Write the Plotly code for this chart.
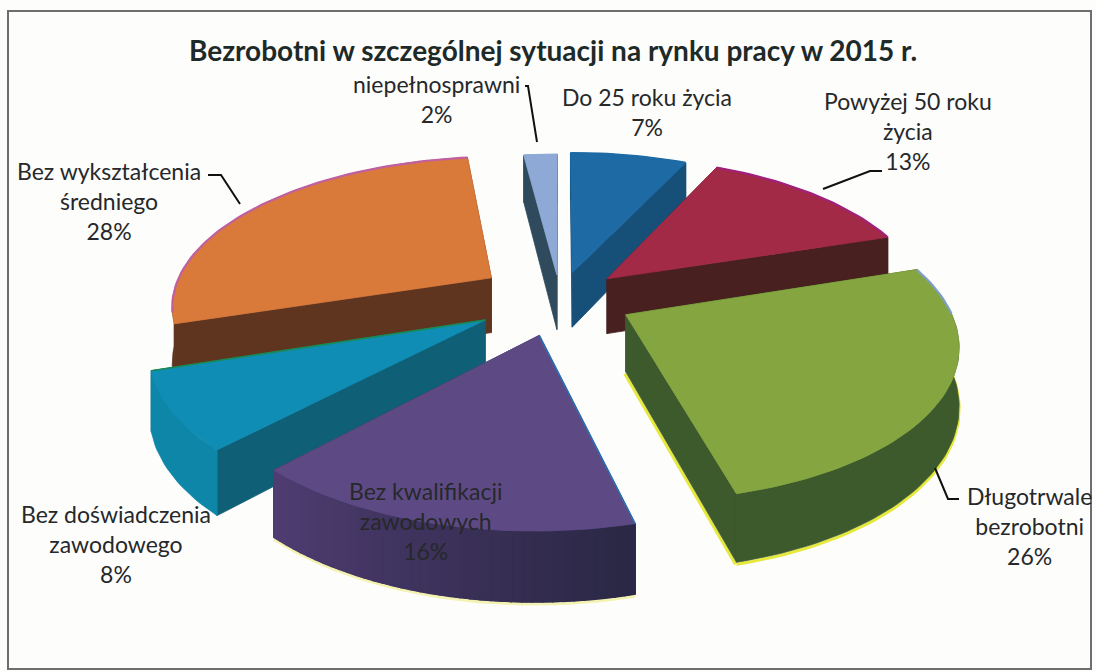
import numpy as np
import plotly.graph_objects as go

# ---- data ----
categories = ["Do 25 roku życia", "Powyżej 50 roku życia", "Długotrwale bezrobotni",
              "Bez kwalifikacji zawodowych", "Bez doświadczenia zawodowego",
              "Bez wykształcenia średniego", "niepełnosprawni"]
shares = [7, 13, 26, 16, 8, 28, 2]

# ---- styling ----
top_colors = ["#1d6aa5", "#a32a47", "#84a53f", "#5d4a85", "#0f8db5", "#d9793a", "#8fa9d6"]
wall_colors = ["#164f78", "#47201f", "#3c5a2b", "#362c55", "#0f5f76", "#5f3520", "#2f4a5c"]
arc_wall_from = ["#164f78", "#47201f", "#3c5a2b", "#2b2845", "#0e86a8", "#5f3520", "#2f4a5c"]
arc_wall_to = ["#164f78", "#47201f", "#3c5a2b", "#4f3d72", "#0e86a8", "#5f3520", "#2f4a5c"]
edge_colors = ["#1d6aa5", "#a0207a", "#7f9fc4", "#5d4a85", "#0f8db5", "#c060a0", "#8fa9d6"]
rim_colors = [None, None, "#e6e83a", "#f4f2b0", None, None, None]
start_edge_colors = [None, None, None, "#2a70b0", None, None, None]
end_edge_colors = [None, None, None, None, "#1a8a50", None, None]
pulls = [0.18, 0.20, 0.23, 0.25, 0.27, 0.26, 0.16]
draw_order = [0, 6, 5, 1, 4, 2, 3]

CX, CY = 560, 298      # projection centre in the page
SX, SY = 320, 148      # radius scale across and along the ground plane
PERSP = 0.17           # perspective strength
THICK = 56             # slab thickness

def project(u, v, lift=0.0):
    s = 1.0 / (1.0 - PERSP * np.asarray(v))
    return CX + SX * np.asarray(u) * s, CY + SY * np.asarray(v) * s + lift * s

fractions = np.array(shares) / sum(shares)
edges = np.concatenate([[0.0], np.cumsum(fractions)]) * 2 * np.pi

fig = go.Figure()

def poly(x, y, color, width=0.8):
    fig.add_trace(go.Scatter(x=list(x), y=list(y), mode="lines", fill="toself",
                             fillcolor=color, hoverinfo="skip", showlegend=False,
                             line=dict(color=color, width=width)))

def stroke(x, y, color, width=2):
    fig.add_trace(go.Scatter(x=list(x), y=list(y), mode="lines", hoverinfo="skip",
                             showlegend=False, line=dict(color=color, width=width)))

def mix(c0, c1, t):
    a = [int(c0[k:k + 2], 16) for k in (1, 3, 5)]
    b = [int(c1[k:k + 2], 16) for k in (1, 3, 5)]
    return "#%02x%02x%02x" % tuple(int(p + (q - p) * t) for p, q in zip(a, b))

for i in draw_order:
    a0, a1 = edges[i], edges[i + 1]
    mid = (a0 + a1) / 2
    ou, ov = pulls[i] * np.sin(mid), -pulls[i] * np.cos(mid)
    th = np.linspace(a0, a1, max(13, int((a1 - a0) * 40)))
    au, av = ou + np.sin(th), ov - np.cos(th)
    wu = np.concatenate([[ou], au, [ou]])
    wv = np.concatenate([[ov], av, [ov]])

    # rim below the slab, along the curved wall and the nearer radial wall
    bx, by = project(au, av, THICK)
    if rim_colors[i]:
        stroke(bx, by + 2, rim_colors[i], 3)
        if i == 2:
            sx, sy = project(np.array([ou, au[-1]]), np.array([ov, av[-1]]), THICK)
            stroke(sx - 1, sy + 2, rim_colors[i], 3)

    # radial walls
    radial = [(np.array([ou, au[0]]), np.array([ov, av[0]]), start_edge_colors[i]),
              (np.array([ou, au[-1]]), np.array([ov, av[-1]]), end_edge_colors[i])]
    radial_sorted = sorted(radial, key=lambda w: np.mean(w[1]))
    for ru, rv, _ in radial_sorted:
        tx, ty = project(ru, rv, 0)
        qx, qy = project(ru, rv, THICK)
        poly(np.concatenate([tx, qx[::-1], tx[:1]]), np.concatenate([ty, qy[::-1], ty[:1]]), wall_colors[i])

    # curved wall: one base band, then shaded strips when its colour changes along the arc
    tx, ty = project(au, av, 0)
    poly(np.concatenate([tx, bx[::-1], tx[:1]]), np.concatenate([ty, by[::-1], ty[:1]]),
         mix(arc_wall_from[i], arc_wall_to[i], 0.5))
    if arc_wall_from[i] != arc_wall_to[i]:
        n = len(au) - 1
        for k in range(n):
            c = mix(arc_wall_from[i], arc_wall_to[i], k / max(n - 1, 1))
            poly([tx[k], tx[k + 1], bx[k + 1], bx[k], tx[k]],
                 [ty[k], ty[k + 1], by[k + 1], by[k], ty[k]], c, width=1.5)

    # top face
    x, y = project(wu, wv, 0)
    poly(x, y, top_colors[i])

    # thin coloured edge on the far part of the arc, and on some radial edges
    far = av < 0.12
    if far.any():
        stroke(tx[far], ty[far], edge_colors[i], 2.2)
    for ru, rv, col in radial:
        if col:
            ex, ey = project(ru, rv, 0)
            stroke(ex, ey, col, 1.6)

FONT = "Lato, 'Open Sans', sans-serif"
labels = [
    ("Do 25 roku życia<br>7%", 647, 112),
    ("Powyżej 50 roku<br>życia<br>13%", 908, 131),
    ("Długotrwale<br>bezrobotni<br>26%", 1029, 526),
    ("Bez kwalifikacji<br>zawodowych<br>16%", 425, 521),
    ("Bez doświadczenia<br>zawodowego<br>8%", 116, 544),
    ("Bez wykształcenia<br>średniego<br>28%", 109, 201),
    ("niepełnosprawni<br>2%", 436, 99),
]
annotations = [dict(x=x, y=y, text=t, xref="x", yref="y", showarrow=False, align="center",
                    font=dict(family=FONT, size=23, color="#26282a")) for t, x, y in labels]
annotations.append(dict(x=553, y=50, text="<b>Bezrobotni w szczególnej sytuacji na rynku pracy w 2015 r.</b>",
                        xref="x", yref="y", showarrow=False,
                        font=dict(family=FONT, size=28, color="#1d2a28")))

def leader(*pts):
    path = "M " + " L ".join(f"{a} {b}" for a, b in pts)
    return dict(type="path", path=path, xref="x", yref="y", line=dict(color="#111", width=2))

shapes = [
    dict(type="rect", x0=8, y0=11, x1=1091, y1=669, xref="x", yref="y",
         line=dict(color="#6e6e6e", width=2), fillcolor="rgba(0,0,0,0)", layer="below"),
    leader((208, 175), (221, 175), (240, 204)),
    leader((525, 86), (528, 86), (537, 142)),
    leader((882, 171), (870, 171), (823, 189)),
    leader((935, 468), (948, 499), (959, 499)),
]

fig.update_layout(
    width=1096, height=672, margin=dict(l=0, r=0, t=0, b=0),
    paper_bgcolor="#fdfdfc", plot_bgcolor="#fdfdfc", showlegend=False,
    xaxis=dict(range=[0, 1096], visible=False, fixedrange=True),
    yaxis=dict(range=[672, 0], visible=False, fixedrange=True),
    annotations=annotations, shapes=shapes,
)
fig.write_html("out.html", config={"displayModeBar": False},
               post_script="document.body.style.margin='0';document.body.style.overflow='hidden';")
